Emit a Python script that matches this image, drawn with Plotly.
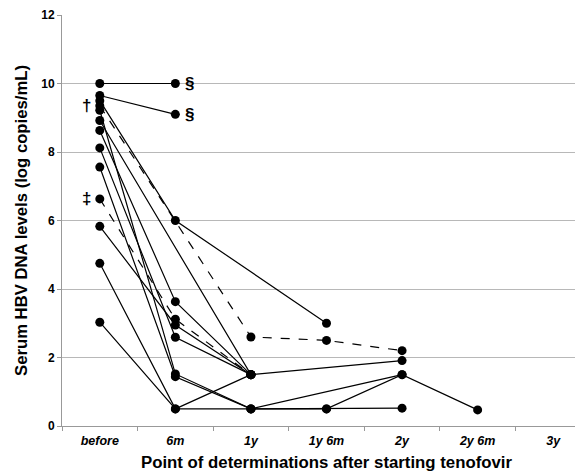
import plotly.graph_objects as go

categories = ["before", "6m", "1y", "1y 6m", "2y", "2y 6m", "3y"]

# Each patient: values at [before, 6m, 1y, 1y 6m, 2y, 2y 6m]; None = not measured
patients_solid = [
    [10.0, 10.0, None, None, None, None],
    [9.65, 9.1, None, None, None, None],
    [9.5, 6.0, None, 3.0, None, None],
    [9.22, 1.52, 0.5, 0.5, 1.5, 0.47],
    [8.92, None, 1.5, None, 1.91, None],
    [8.63, 3.63, 1.5, None, None, None],
    [8.12, 2.59, 1.5, None, None, None],
    [7.56, 1.44, 0.5, 0.5, 0.52, None],
    [5.83, 2.95, 1.5, None, None, None],
    [4.75, 0.5, 1.5, None, None, None],
    [3.03, 0.5, 0.5, None, 1.5, None],
]
patients_dashed = [
    [9.35, None, 2.6, 2.5, 2.2, None],
    [6.63, 3.12, 1.5, None, None, None],
]

symbols_text = ["§", "§", "†", "‡"]
symbol_cat = ["6m", "6m", "before", "before"]
symbol_y = [10.0, 9.1, 9.35, 6.63]
symbol_side = ["right", "right", "left", "left"]

y_ticks = [0, 2, 4, 6, 8, 10, 12]

fig = go.Figure()

def add_patient(vals, dash):
    xs, ys = [], []
    for c, v in zip(categories, vals):
        if v is not None:
            xs.append(c)
            ys.append(v)
    fig.add_trace(go.Scatter(
        x=xs, y=ys, mode="lines+markers",
        line=dict(color="black", width=1.2, dash=dash),
        marker=dict(color="black", size=9, symbol="circle"),
        showlegend=False, hoverinfo="skip", cliponaxis=False,
    ))

for p in patients_solid:
    add_patient(p, "solid")
for p in patients_dashed:
    add_patient(p, "dash")

for t, c, yv, side in zip(symbols_text, symbol_cat, symbol_y, symbol_side):
    fig.add_annotation(
        x=c, y=yv, text=t, showarrow=False,
        xanchor="left" if side == "right" else "right",
        xshift=8 if side == "right" else -7,
        font=dict(family="Arial", size=17, weight="bold", color="#000000"),
    )

fig.update_layout(
    width=583, height=471,
    margin=dict(l=54, r=0, t=7, b=53),
    plot_bgcolor="white", paper_bgcolor="white",
    font=dict(family="Arial", color="black"),
)
fig.update_xaxes(
    type="category", categoryorder="array", categoryarray=categories,
    range=[-0.5, 6.5],
    showgrid=False, showline=True, linecolor="#999999", linewidth=1,
    ticks="outside", tickson="boundaries", ticklen=4, tickcolor="#999999",
    ticklabelstandoff=3,
    tickfont=dict(family="Arial", size=12.5, weight="bold", style="italic", color="black"),
    title=dict(text="Point of determinations after starting tenofovir",
               font=dict(family="Arial", size=16.8, weight="bold", color="black"), standoff=9),
    zeroline=False,
)
fig.update_yaxes(
    range=[0, 12], tickvals=y_ticks,
    showgrid=True, gridcolor="#b8b8b8", gridwidth=1,
    showline=True, linecolor="#999999", linewidth=1,
    ticks="outside", ticklen=4, tickcolor="#999999",
    tickfont=dict(family="Arial", size=12, weight="bold", color="black"),
    title=dict(text="Serum HBV DNA levels (log copies/mL)",
               font=dict(family="Arial", size=16.7, weight="bold", color="black"), standoff=9),
    zeroline=False,
)

fig.write_html("out.html")
